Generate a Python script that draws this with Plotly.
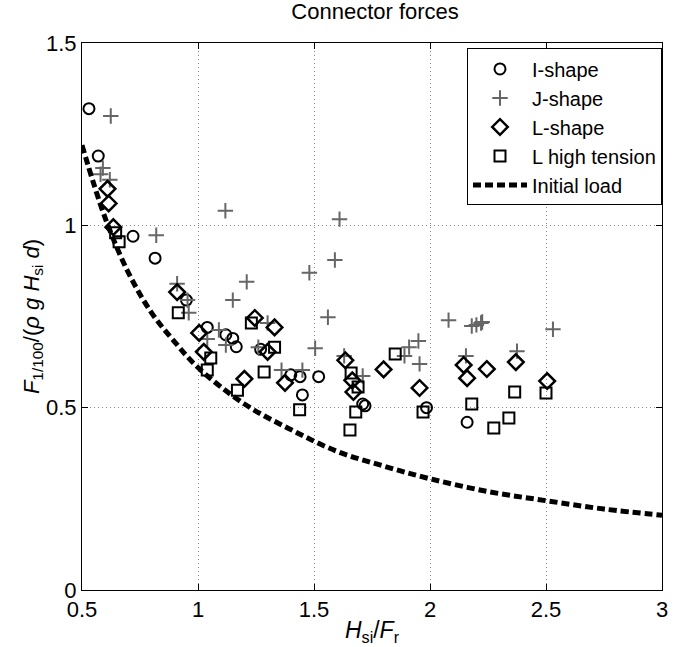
import plotly.graph_objects as go

# I-shape (circles)
i_x = [0.53, 0.57, 0.72, 0.815, 0.95, 1.04, 1.12, 1.15, 1.165, 1.27, 1.40, 1.44, 1.52, 1.45, 1.71, 1.72, 1.985, 2.16]
i_y = [1.32, 1.19, 0.97, 0.91, 0.795, 0.72, 0.70, 0.69, 0.667, 0.66, 0.59, 0.585, 0.585, 0.535, 0.51, 0.505, 0.50, 0.46]

# J-shape (plus)
j_x = [0.624, 0.59, 0.58, 0.62, 0.82, 1.118, 1.61, 1.59, 0.91, 0.96, 0.955, 1.21, 1.15, 1.48, 1.56, 1.505,
       1.09, 1.04, 1.12, 1.30, 1.26, 1.36, 1.45, 1.63, 1.71, 2.08, 2.18, 2.20, 2.22, 2.225, 2.53,
       2.155, 2.375, 1.91, 1.95, 1.89, 1.955]
j_y = [1.30, 1.157, 1.14, 1.125, 0.973, 1.04, 1.017, 0.905, 0.84, 0.76, 0.795, 0.845, 0.795, 0.87, 0.748, 0.663,
       0.713, 0.688, 0.672, 0.732, 0.666, 0.603, 0.603, 0.642, 0.587, 0.74, 0.724, 0.727, 0.732, 0.735, 0.715,
       0.642, 0.655, 0.666, 0.683, 0.642, 0.62]

# L-shape (diamonds)
l_x = [0.61, 0.615, 0.635, 0.91, 1.005, 1.025, 1.245, 1.33, 1.30, 1.375, 1.20, 1.635, 1.665, 1.67, 1.80,
       1.955, 2.145, 2.16, 2.245, 2.37, 2.505]
l_y = [1.10, 1.06, 0.995, 0.817, 0.705, 0.653, 0.746, 0.72, 0.653, 0.568, 0.579, 0.63, 0.575, 0.543, 0.605,
       0.554, 0.617, 0.581, 0.606, 0.625, 0.573]

# L high tension (squares)
h_x = [0.645, 0.66, 0.915, 1.055, 1.04, 1.23, 1.33, 1.285, 1.17, 1.438, 1.66, 1.69, 1.68, 1.655, 1.85,
       1.97, 2.18, 2.275, 2.34, 2.365, 2.50]
h_y = [0.98, 0.955, 0.76, 0.636, 0.603, 0.732, 0.666, 0.598, 0.548, 0.494, 0.595, 0.557, 0.488, 0.439, 0.647,
       0.488, 0.51, 0.444, 0.472, 0.543, 0.54]

# Initial load curve
c_x = [0.5, 0.6, 0.7, 0.8, 0.9, 1.0, 1.2, 1.4, 1.6, 1.8, 2.0, 2.25, 2.5, 2.75, 3.0]
c_y = [1.22, 1.02, 0.87, 0.76, 0.68, 0.61, 0.51, 0.44, 0.38, 0.34, 0.305, 0.27, 0.245, 0.222, 0.205]

FONT = "Liberation Sans, Arial, sans-serif"

fig = go.Figure()
fig.add_trace(go.Scatter(x=i_x, y=i_y, mode="markers", name="I-shape",
                         marker=dict(symbol="circle-open", size=11, color="black", line=dict(width=2, color="black"))))
fig.add_trace(go.Scatter(x=j_x, y=j_y, mode="markers", name="J-shape",
                         marker=dict(symbol="cross-thin-open", size=11, color="#666666", line=dict(width=2, color="#666666"))))
fig.add_trace(go.Scatter(x=l_x, y=l_y, mode="markers", name="L-shape",
                         marker=dict(symbol="diamond-open", size=12, color="black", line=dict(width=2.5, color="black"))))
fig.add_trace(go.Scatter(x=h_x, y=h_y, mode="markers", name="L high tension",
                         marker=dict(symbol="square-open", size=11, color="black", line=dict(width=2, color="black"))))
fig.add_trace(go.Scatter(x=c_x, y=c_y, mode="lines", name="Initial load", line_shape="spline",
                         line=dict(color="black", width=5, dash="8px,4px")))

axis_common = dict(showline=True, linecolor="black", linewidth=1, mirror="ticks",
                   ticks="inside", ticklen=6, tickcolor="black",
                   showgrid=True, gridcolor="#8a8a8a", griddash="1px,3px", gridwidth=1,
                   zeroline=False, ticklabeloverflow="allow",
                   tickfont=dict(size=22, color="black", family=FONT))

fig.update_xaxes(range=[0.5, 3], tickvals=[0.5, 1, 1.5, 2, 2.5, 3], ticktext=["0.5", "1", "1.5", "2", "2.5", "3"],
                 title=dict(text="<i>H</i><sub>si</sub>/<i>F</i><sub>r</sub>", font=dict(size=23, color="black", family=FONT),
                            standoff=0),
                 **axis_common)
fig.update_yaxes(range=[0, 1.5], tickvals=[0, 0.5, 1, 1.5], ticktext=["0", "0.5", "1", "1.5"],
                 title=dict(text="<i>F</i><sub>1/100</sub>/(<i>ρ g H</i><sub>si</sub> <i>d</i>)",
                            font=dict(size=22, color="black", family=FONT), standoff=0),
                 **axis_common)

fig.update_layout(
    width=674, height=647,
    margin=dict(l=82, r=6, t=43, b=57),
    paper_bgcolor="white", plot_bgcolor="white",
    title=dict(text="Connector forces", x=0.5565, xanchor="center", y=0.994, yanchor="top",
               font=dict(size=22, color="black", family=FONT)),
    legend=dict(x=1.0, xanchor="right", y=0.99, yanchor="top",
                bgcolor="white", bordercolor="black", borderwidth=1,
                font=dict(size=20, color="black", family=FONT), itemwidth=54, tracegroupgap=0),
    showlegend=True,
)

fig.write_html("out.html")
